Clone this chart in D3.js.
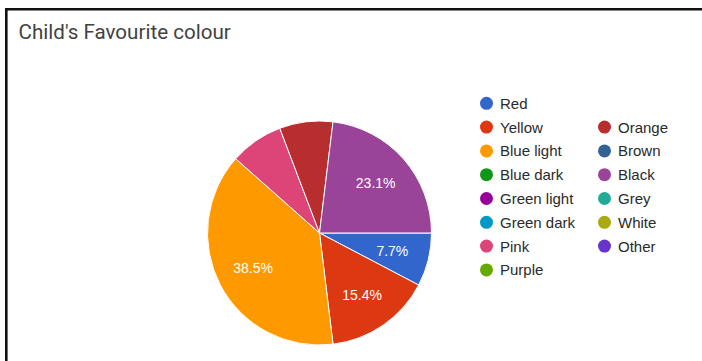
<!DOCTYPE html>
<html>
<head>
<meta charset="utf-8">
<script src="https://cdn.jsdelivr.net/npm/d3@7"></script>
<style>
  html, body { margin: 0; padding: 0; background: #fff; }
  svg { display: block; }
</style>
</head>
<body>
<svg id="chart" width="702" height="361"></svg>
<script>
// Survey answers: favourite colour, number of children per answer
const categories = ["Red", "Yellow", "Blue light", "Blue dark", "Green light", "Green dark",
  "Pink", "Purple", "Orange", "Brown", "Black", "Grey", "White", "Other"];
const counts = [1, 2, 5, 0, 0, 0, 1, 0, 1, 0, 3, 0, 0, 0];
const palette = ["#3366cc", "#dc3912", "#ff9900", "#109618", "#990099", "#0099c6",
  "#dd4477", "#66aa00", "#b82e2e", "#316395", "#994499", "#22aa99", "#aaaa11", "#6633cc"];
// Slices wide enough to carry their percentage
const labelled = ["Red", "Yellow", "Blue light", "Black"];
const title = "Child's Favourite colour";

const svg = d3.select("#chart");
const W = 702, H = 361;

// card frame
svg.append("rect").attr("x", 0).attr("y", 0).attr("width", W).attr("height", H).attr("fill", "#fff");
svg.append("line").attr("x1", 6.3).attr("x2", 6.3).attr("y1", 8).attr("y2", H)
  .attr("stroke", "#111").attr("stroke-width", 2.6);
svg.append("line").attr("x1", 5).attr("x2", W).attr("y1", 9.3).attr("y2", 9.3)
  .attr("stroke", "#111").attr("stroke-width", 2.6);

svg.append("text").attr("x", 18.5).attr("y", 39)
  .attr("font-family", "Roboto, Arial, sans-serif").attr("font-size", 20.6)
  .attr("fill", "#424242").text(title);

const total = d3.sum(counts);
const data = categories.map((c, i) => ({ name: c, value: counts[i], color: palette[i] }));
const colour = d3.scaleOrdinal().domain(categories).range(palette);

const cx = 319.5, cy = 233, r = 112;
const pie = d3.pie().sort(null).value(d => d.value)
  .startAngle(Math.PI / 2).endAngle(Math.PI / 2 + 2 * Math.PI);
const arc = d3.arc().innerRadius(0).outerRadius(r);
const labelArc = d3.arc().innerRadius(r * 0.67).outerRadius(r * 0.67);

const g = svg.append("g").attr("transform", `translate(${cx},${cy})`);
const arcs = pie(data).filter(a => a.data.value > 0);

g.selectAll("path.slice").data(arcs).join("path")
  .attr("class", "slice")
  .attr("d", arc)
  .attr("fill", d => colour(d.data.name))
  .attr("stroke", "#fff").attr("stroke-width", 1);

const fmt = v => (Math.round(v / total * 1000) / 10).toFixed(1) + "%";
g.selectAll("text.pct").data(arcs.filter(a => labelled.includes(a.data.name))).join("text")
  .attr("class", "pct")
  .attr("transform", d => `translate(${labelArc.centroid(d)})`)
  .attr("text-anchor", "middle").attr("dy", "0.36em")
  .attr("font-family", "Arial, 'Liberation Sans', sans-serif").attr("font-size", 14)
  .attr("fill", "#fff").text(d => fmt(d.data.value));

// legend: two columns, second one starts a row lower
const rowY = d3.scaleLinear().domain([0, 1]).range([103.3, 127.1]);
const legendPos = categories.map((c, i) => i < 8 ? { col: 0, row: i } : { col: 1, row: i - 7 });
const colX = [486.5, 604.5];
const lg = svg.append("g");
const items = lg.selectAll("g.item").data(data).join("g")
  .attr("class", "item")
  .attr("transform", (d, i) => `translate(${colX[legendPos[i].col]},${rowY(legendPos[i].row)})`);
items.append("circle").attr("r", 6.5).attr("fill", d => colour(d.name));
items.append("text").attr("x", 13.5).attr("dy", "0.36em")
  .attr("font-family", "Arial, 'Liberation Sans', sans-serif").attr("font-size", 15)
  .attr("fill", "#2a2a2a").text(d => d.name);
</script>
</body>
</html>
